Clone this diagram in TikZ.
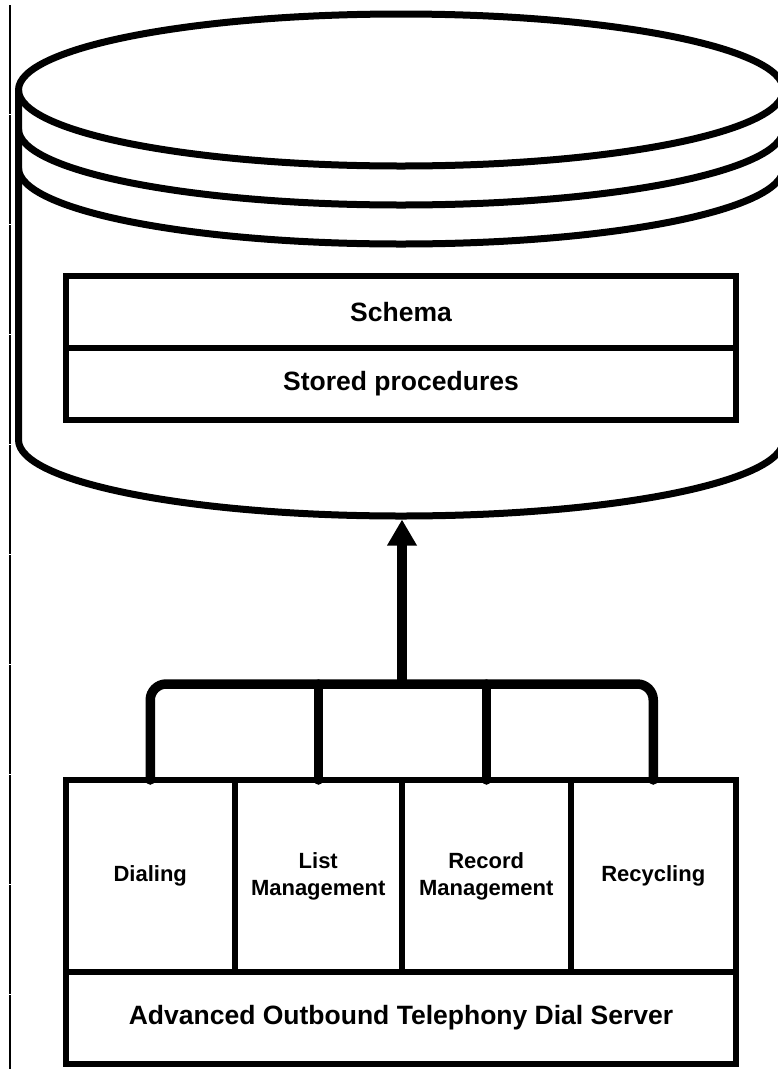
\documentclass[tikz,border=0pt]{standalone}
\usepackage{fontspec}
\setmainfont{Liberation Sans}
\usetikzlibrary{arrows.meta}
\begin{document}
\begin{tikzpicture}[x=1pt,y=-1pt,
  dbline/.style={line width=7pt, line join=round, line cap=round},
  panel/.style={draw, line width=6pt, inner sep=0pt, align=center,
    minimum width=670pt, font=\fontsize{26.5}{30}\selectfont\bfseries},
  module/.style={draw, line width=6pt, inner sep=0pt, align=center,
    minimum height=192pt, font=\fontsize{22}{27}\selectfont\bfseries},
  bus/.style={line width=9.5pt, line cap=round, line join=round, rounded corners=16pt},
  uplink/.style={line width=9.5pt, -{Triangle[width=28pt,length=26pt]}},
]
\useasboundingbox (0,0) rectangle (778,1069);

% thin margin rule on the left
\draw[line width=1.5pt, dash pattern=on 108.5pt off 1.5pt] (10,5) -- (10,1069);

% database cylinder
\draw[dbline] (401,90) ellipse [x radius=382.5pt, y radius=76pt];
\draw[dbline] (18.5,129) arc [start angle=180, end angle=360, x radius=382.5pt, y radius=76pt];
\draw[dbline] (18.5,168) arc [start angle=180, end angle=360, x radius=382.5pt, y radius=76pt];
\draw[dbline] (18.5,90) -- (18.5,440)
  arc [start angle=180, end angle=360, x radius=382.5pt, y radius=76pt]
  -- (783.5,90);
\coordinate (dbbase) at (402,519.5);

% contents of the database
\node[panel, minimum height=72pt] (schema) at (401,312) {Schema};
\node[panel, minimum height=72pt] (stored) at (401,384) {Stored procedures};

% dial server modules
\node[module, minimum width=168.5pt] (dial) at (150.25,876) {Dialing};
\node[module, minimum width=167.5pt] (list) at (318.25,876) {List\\Management};
\node[module, minimum width=168.5pt] (record) at (486.25,876) {Record\\Management};
\node[module, minimum width=165.5pt] (recy) at (653.25,876) {Recycling};
\node[panel, minimum height=92pt] (server) at (401,1018) {Advanced Outbound Telephony Dial Server};

% bus joining the modules and the link up to the database
\coordinate (hub) at (402,684);
\draw[bus] ([yshift=-3pt]dial.north) -- (dial.north |- hub) -- (recy.north |- hub) -- ([yshift=-3pt]recy.north);
\draw[bus] ([yshift=-3pt]list.north) -- (list.north |- hub);
\draw[bus] ([yshift=-3pt]record.north) -- (record.north |- hub);
\draw[uplink] (hub) -- (dbbase);
\end{tikzpicture}
\end{document}
